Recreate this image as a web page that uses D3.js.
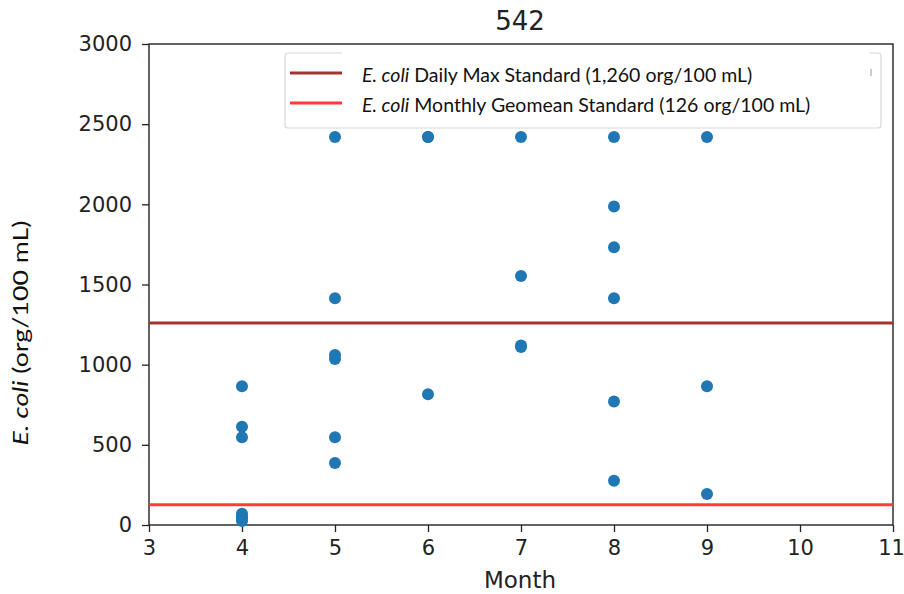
<!DOCTYPE html>
<html>
<head>
<meta charset="utf-8">
<script src="https://cdn.jsdelivr.net/npm/d3@7"></script>
<style>
  html, body { margin: 0; padding: 0; background: #fff; }
  svg { display: block; }
</style>
</head>
<body>
<svg id="chart" width="904" height="594"></svg>
<script>
// Station 542: monthly E. coli samples (org/100 mL)
const months = [4, 4, 4, 4, 4, 4, 4,
                5, 5, 5, 5, 5, 5,
                6, 6, 6,
                7, 7, 7, 7,
                8, 8, 8, 8, 8, 8,
                9, 9, 9];
const ecoli  = [866, 613, 548, 70, 52, 41, 25,
                2420, 1414, 1060, 1035, 548, 387,
                2420, 2420, 816,
                2420, 1553, 1120, 1110,
                2420, 1986, 1733, 1414, 770, 276,
                2420, 866, 194];

const xTicks = [3, 4, 5, 6, 7, 8, 9, 10, 11];
const yTicks = [0, 500, 1000, 1500, 2000, 2500, 3000];

const standards = [
  { name: "Daily Max Standard (1,260 org/100 mL)", value: 1260, color: "#a83232" },
  { name: "Monthly Geomean Standard (126 org/100 mL)", value: 126, color: "#ff3b3b" }
];

const svg = d3.select("#chart");
const x = d3.scaleLinear().domain([3, 11]).range([149, 893]);
const y = d3.scaleLinear().domain([0, 3000]).range([525, 44]);

const tickFont = "'DejaVu Sans', sans-serif";
const textFont = "Lato, 'Open Sans', sans-serif";

// Axes
const xAxis = svg.append("g")
  .attr("transform", `translate(0,${y(0)})`)
  .call(d3.axisBottom(x).tickValues(xTicks).tickFormat(d3.format("d")).tickSize(7).tickPadding(8));
const yAxis = svg.append("g")
  .attr("transform", `translate(${x(3)},0)`)
  .call(d3.axisLeft(y).tickValues(yTicks).tickFormat(d3.format("d")).tickSize(7).tickPadding(10));
[xAxis, yAxis].forEach(g => {
  g.select(".domain").remove();
  g.selectAll("line").attr("stroke", "#222").attr("stroke-width", 1.3);
  g.selectAll("text").attr("fill", "#222").style("font-family", tickFont).style("font-size", "21px");
});
// keep the last month label inside the canvas edge
xAxis.selectAll(".tick").filter(d => d === 11).select("text").attr("x", -2);

// Frame
svg.append("rect")
  .attr("x", x(3)).attr("y", y(3000))
  .attr("width", x(11) - x(3)).attr("height", y(0) - y(3000))
  .attr("fill", "none").attr("stroke", "#222").attr("stroke-width", 1.4);

// Standard lines
svg.selectAll(".std").data(standards).enter().append("line")
  .attr("class", "std")
  .attr("x1", x(3)).attr("x2", x(11))
  .attr("y1", d => y(d.value)).attr("y2", d => y(d.value))
  .attr("stroke", d => d.color).attr("stroke-width", 3);

// Samples
svg.selectAll(".pt").data(months.map((m, i) => [m, ecoli[i]])).enter().append("circle")
  .attr("class", "pt")
  .attr("cx", d => x(d[0])).attr("cy", d => y(d[1]))
  .attr("r", 6).attr("fill", "#1f77b4");

// Legend
const lg = svg.append("g");
lg.append("rect")
  .attr("x", 285).attr("y", 53).attr("width", 596).attr("height", 75)
  .attr("rx", 3).attr("fill", "#fff").attr("stroke", "#d8d8d8").attr("stroke-width", 1.2);
lg.append("rect")
  .attr("x", 342).attr("y", 50).attr("width", 527).attr("height", 14).attr("fill", "#fff");
lg.append("line")
  .attr("x1", 871).attr("x2", 871).attr("y1", 69).attr("y2", 76)
  .attr("stroke", "#999").attr("stroke-width", 1);
standards.forEach((s, i) => {
  const cy = 73 + i * 30;
  lg.append("line")
    .attr("x1", 290).attr("x2", 342).attr("y1", cy).attr("y2", cy)
    .attr("stroke", s.color).attr("stroke-width", 3);
  const t = lg.append("text")
    .attr("x", 362).attr("y", cy + 9)
    .attr("fill", "#111")
    .style("font-family", textFont).style("font-size", "19.5px");
  t.append("tspan").attr("font-style", "italic").text("E. coli");
  t.append("tspan").text(" " + s.name);
});

// Title and axis labels
svg.append("text")
  .attr("x", 520).attr("y", 30).attr("text-anchor", "middle")
  .attr("fill", "#222")
  .style("font-family", tickFont).style("font-size", "26px")
  .text("542");
svg.append("text")
  .attr("x", 520).attr("y", 588).attr("text-anchor", "middle")
  .attr("fill", "#222")
  .style("font-family", tickFont).style("font-size", "23px")
  .text("Month");
const yl = svg.append("text")
  .attr("transform", `translate(28,333) rotate(-90)`)
  .attr("text-anchor", "middle").attr("fill", "#111")
  .attr("textLength", 225).attr("lengthAdjust", "spacingAndGlyphs")
  .style("font-family", textFont).style("font-size", "22px");
yl.append("tspan").attr("font-style", "italic").text("E. coli");
yl.append("tspan").text(" (org/100 mL)");
</script>
</body>
</html>
